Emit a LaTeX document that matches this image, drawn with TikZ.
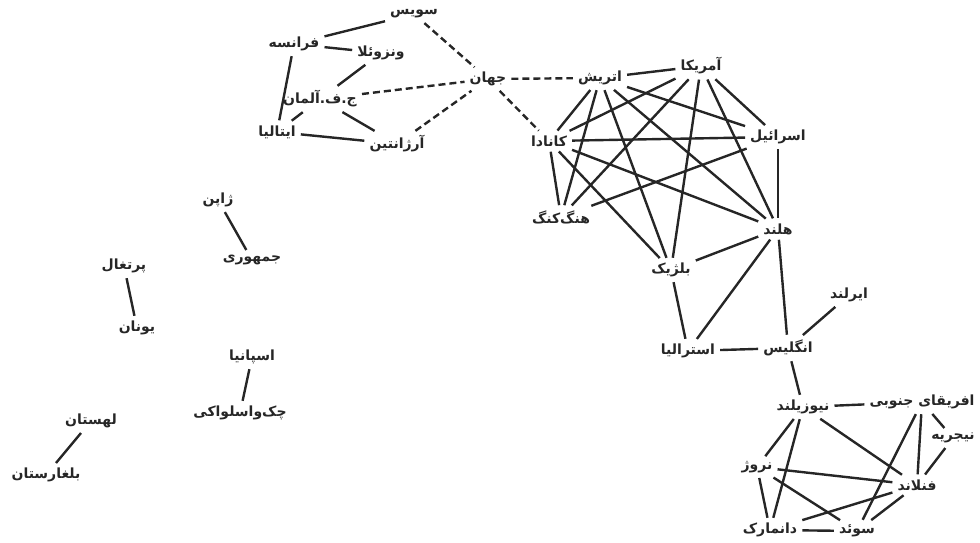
\documentclass[tikz,border=0pt]{standalone}
\usepackage{fontspec}
\usepackage{tikz}
\TeXXeTstate=1
\newfontfamily\persianfont[Script=Arabic]{DejaVu Sans}
\definecolor{ink}{RGB}{38, 38, 38}
\tikzstyle{cn}=[font=\persianfont\bfseries\fontsize{14}{16}\selectfont,text=ink,inner sep=4pt]
\tikzstyle{tie}=[draw=ink,line width=2.4pt,shorten >=1pt,shorten <=1pt]
\tikzstyle{weak}=[tie,dash pattern=on 7pt off 4pt]

\begin{document}
\begin{tikzpicture}[x=1pt,y=-1pt]
        \useasboundingbox (0,0) rectangle (980,543);
        \node[style=cn] (0) at (414,14) {\beginR سویس\endR};
        \node[style=cn] (1) at (294,44) {\beginR فرانسه\endR};
        \node[style=cn] (2) at (381,53) {\beginR ونزوئلا\endR};
        \node[style=cn] (3) at (320,99) {\beginR ج.ف.آلمان\endR};
        \node[style=cn] (4) at (277,132) {\beginR ایتالیا\endR};
        \node[style=cn] (5) at (397,144) {\beginR آرژانتین\endR};
        \node[style=cn] (6) at (488,79) {\beginR جهان\endR};
        \node[style=cn] (7) at (600,78) {\beginR اتریش\endR};
        \node[style=cn] (8) at (701,66) {\beginR آمریکا\endR};
        \node[style=cn] (9) at (549,141) {\beginR کانادا\endR};
        \node[style=cn] (10) at (778,137) {\beginR اسرائیل\endR};
        \node[style=cn] (11) at (561,217) {\beginR هنگ‌کنگ\endR};
        \node[style=cn] (12) at (778,229) {\beginR هلند\endR};
        \node[style=cn] (13) at (671,270) {\beginR بلژیک\endR};
        \node[style=cn] (14) at (849,295) {\beginR ایرلند\endR};
        \node[style=cn] (15) at (688,351) {\beginR استرالیا\endR};
        \node[style=cn] (16) at (788,348) {\beginR انگلیس\endR};
        \node[style=cn] (17) at (803,407) {\beginR نیوزیلند\endR};
        \node[style=cn] (18) at (922,402) {\beginR افریقای جنوبی\endR};
        \node[style=cn] (19) at (953,438) {\beginR نیجریه\endR};
        \node[style=cn] (20) at (917,485) {\beginR فنلاند\endR};
        \node[style=cn] (21) at (757,467) {\beginR نروژ\endR};
        \node[style=cn] (22) at (770,530) {\beginR دانمارک\endR};
        \node[style=cn] (23) at (857,531) {\beginR سوئد\endR};
        \node[style=cn] (24) at (218,200) {\beginR ژاپن\endR};
        \node[style=cn] (25) at (252,260) {\beginR جمهوری\endR};
        \node[style=cn] (26) at (124,266) {\beginR پرتغال\endR};
        \node[style=cn] (27) at (137,328) {\beginR یونان\endR};
        \node[style=cn] (28) at (252,357) {\beginR اسپانیا\endR};
        \node[style=cn] (29) at (240,413) {\beginR چک‌واسلواکی\endR};
        \node[style=cn] (30) at (91,421) {\beginR لهستان\endR};
        \node[style=cn] (31) at (46,475) {\beginR بلغارستان\endR};
        \draw[style=tie] (0) to (1);
        \draw[style=tie] (1) to (2);
        \draw[style=tie] (1) to (4);
        \draw[style=tie] (2) to (3);
        \draw[style=tie] (3) to (5);
        \draw[style=tie] (3) to (4);
        \draw[style=tie] (4) to (5);
        \draw[style=weak] (0) to (6);
        \draw[style=weak] (3) to (6);
        \draw[style=weak] (5) to (6);
        \draw[style=weak] (6) to (7);
        \draw[style=weak] (6) to (9);
        \draw[style=tie] (7) to (8);
        \draw[style=tie] (7) to (9);
        \draw[style=tie] (7) to (10);
        \draw[style=tie] (7) to (11);
        \draw[style=tie] (7) to (12);
        \draw[style=tie] (7) to (13);
        \draw[style=tie] (8) to (9);
        \draw[style=tie] (8) to (10);
        \draw[style=tie] (8) to (11);
        \draw[style=tie] (8) to (12);
        \draw[style=tie] (8) to (13);
        \draw[style=tie] (9) to (10);
        \draw[style=tie] (9) to (11);
        \draw[style=tie] (9) to (12);
        \draw[style=tie] (9) to (13);
        \draw[style=tie] (11) to (10);
        \draw[style=tie] (10) to (12);
        \draw[style=tie] (12) to (13);
        \draw[style=tie] (13) to (15);
        \draw[style=tie] (12) to (15);
        \draw[style=tie] (12) to (16);
        \draw[style=tie] (14) to (16);
        \draw[style=tie] (15) to (16);
        \draw[style=tie] (16) to (17);
        \draw[style=tie] (17) to (18);
        \draw[style=tie] (18) to (19);
        \draw[style=tie] (19) to (20);
        \draw[style=tie] (17) to (21);
        \draw[style=tie] (17) to (22);
        \draw[style=tie] (17) to (20);
        \draw[style=tie] (18) to (20);
        \draw[style=tie] (18) to (23);
        \draw[style=tie] (21) to (20);
        \draw[style=tie] (21) to (22);
        \draw[style=tie] (21) to (23);
        \draw[style=tie] (22) to (20);
        \draw[style=tie] (22) to (23);
        \draw[style=tie] (23) to (20);
        \draw[style=tie] (24) to (25);
        \draw[style=tie] (26) to (27);
        \draw[style=tie] (28) to (29);
        \draw[style=tie] (30) to (31);
    \end{tikzpicture}
\end{document}
